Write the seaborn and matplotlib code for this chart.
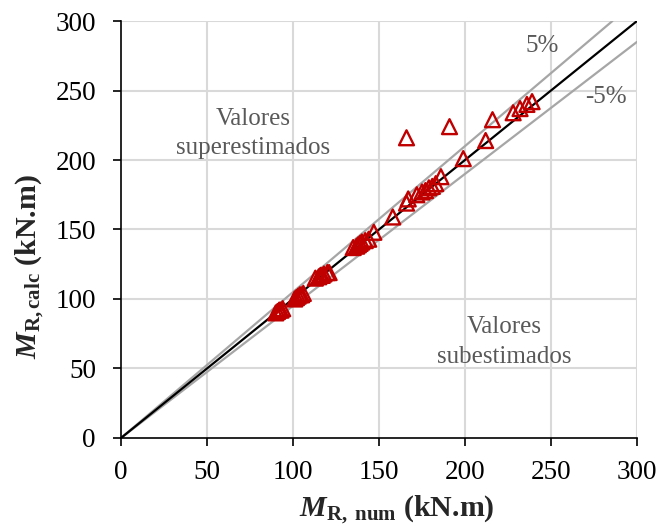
import numpy as np
import pandas as pd
import matplotlib
matplotlib.use("Agg")
import matplotlib.pyplot as plt
import seaborn as sns

# Numerical vs. calculated resisting moments (kN.m)
m_num = [90, 91, 92, 93, 94, 101, 102, 103, 104, 105, 106, 113, 115, 116, 117, 118,
         120, 121, 135, 137, 138, 139, 140, 142, 144, 147, 158, 166, 167, 172, 175,
         177, 179, 181, 183, 186, 166, 191, 199, 212, 216, 228, 232, 236, 239]
m_calc = [90, 91, 92, 92, 93, 100, 101, 102, 103, 103, 104, 115, 116, 117, 117, 118,
          119, 119, 137, 138, 139, 140, 141, 142, 143, 148, 159, 169, 172, 175, 177,
          178, 180, 181, 183, 188, 216, 224, 201, 214, 229, 234, 237, 240, 242]

# Reference lines: equality and +/-5 % bounds
ref_x = [0, 300]
upper_x = [0, 300 / 1.05]
tolerance = 0.05
ticks = [0, 50, 100, 150, 200, 250, 300]

sns.set_theme(style="white")
plt.rcParams["font.family"] = ["Liberation Serif", "DejaVu Serif"]
plt.rcParams["mathtext.fontset"] = "custom"
plt.rcParams["mathtext.rm"] = "Liberation Serif"
plt.rcParams["mathtext.it"] = "Liberation Serif:italic"
plt.rcParams["mathtext.bf"] = "Liberation Serif:bold"
plt.rcParams["mathtext.bfit"] = "Liberation Serif:bold:italic"

fig = plt.figure(figsize=(6.59, 5.28), dpi=100)
ax = fig.add_axes([0.1836, 0.1705, 0.7830, 0.7897])

grid_c = "#d9d9d9"
for t in ticks[1:]:
    ax.axvline(t, color=grid_c, lw=1.5, zorder=0)
    ax.axhline(t, color=grid_c, lw=1.5, zorder=0)

df_eq = pd.DataFrame({"x": ref_x, "y": ref_x})
df_up = pd.DataFrame({"x": upper_x, "y": [v * (1 + tolerance) for v in upper_x]})
df_lo = pd.DataFrame({"x": ref_x, "y": [v * (1 - tolerance) for v in ref_x]})
sns.lineplot(data=df_up, x="x", y="y", color="#a6a6a6", lw=1.6, ax=ax, zorder=2)
sns.lineplot(data=df_lo, x="x", y="y", color="#a6a6a6", lw=1.6, ax=ax, zorder=2)
sns.lineplot(data=df_eq, x="x", y="y", color="black", lw=1.6, ax=ax, zorder=3)

df = pd.DataFrame({"num": m_num, "calc": m_calc})
sns.scatterplot(data=df, x="num", y="calc", marker="^", s=115,
                facecolors="none", edgecolor="#c00000", linewidth=1.7,
                ax=ax, zorder=4)

ax.set_xlim(0, 300)
ax.set_ylim(0, 300)
ax.set_xticks(ticks)
ax.set_yticks(ticks)
ax.tick_params(axis="both", labelsize=19.5, length=6, width=1.2, direction="out",
               color="black", labelcolor="black", bottom=True, left=True)
ax.tick_params(axis="x", pad=10)
ax.tick_params(axis="y", pad=12)
for side in ["top", "right"]:
    ax.spines[side].set_visible(False)
for side in ["left", "bottom"]:
    ax.spines[side].set_color("black")
    ax.spines[side].set_linewidth(1.2)

ax.set_xlabel(r"$\mathbfit{M}_{\mathbf{R,\ num}}$ (kN.m)", fontsize=21.5,
              fontweight="bold")
ax.set_ylabel(r"$\mathbfit{M}_{\mathbf{R,calc}}$ (kN.m)", fontsize=21.5,
              fontweight="bold")
ax.xaxis.set_label_coords(0.535, -0.133)
ax.yaxis.set_label_coords(-0.145, 0.41)

txt_c = "#595959"
ax.text(245, 282, "5%", fontsize=18, color=txt_c, ha="center", va="center")
ax.text(282, 245, "-5%", fontsize=18, color=txt_c, ha="center", va="center")
ax.text(77, 219, "Valores\nsuperestimados", fontsize=18, color=txt_c,
        ha="center", va="center", linespacing=1.45)
ax.text(223, 69, "Valores\nsubestimados", fontsize=18, color=txt_c,
        ha="center", va="center", linespacing=1.45)

fig.savefig("out.png", dpi=100)
